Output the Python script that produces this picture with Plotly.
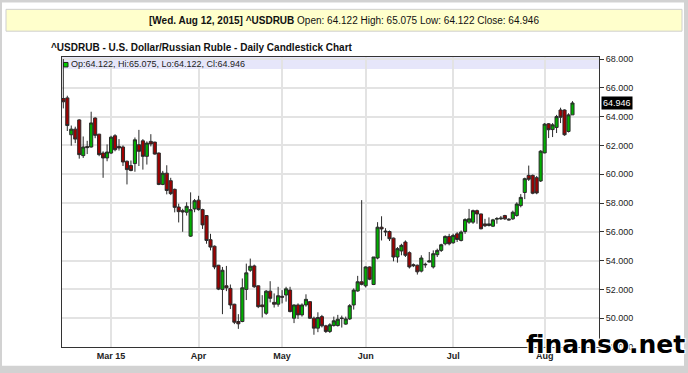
import pandas as pd
import plotly.graph_objects as go

symbol = "^USDRUB"
title_text = "^USDRUB - U.S. Dollar/Russian Ruble - Daily Candlestick Chart"
holidays = ["2015-04-03"]
trade_dates = [d.strftime("%Y-%m-%d") for d in pd.bdate_range("2015-02-12", "2015-08-12")
               if d.strftime("%Y-%m-%d") not in holidays]

open_vals = [65.26, 65.30, 62.74, 63.13, 63.77, 61.29, 61.92, 61.89, 63.90, 62.78,
             61.47, 61.13, 61.47, 62.67, 61.93, 61.89, 60.90, 60.60, 60.74, 62.05,
             62.32, 61.24, 62.28, 62.23, 61.47, 59.29, 60.07, 59.55, 58.95, 57.72,
             57.47, 57.36, 55.70, 57.59, 58.20, 57.54, 57.13, 55.45, 55.00, 53.68,
             52.00, 52.25, 52.07, 50.97, 49.77, 49.77, 52.00, 53.33, 53.63, 52.25,
             50.92, 50.34, 51.88, 51.10, 50.97, 51.52, 51.61, 51.95, 50.00, 50.92,
             50.23, 50.92, 51.15, 50.00, 49.31, 50.11, 49.47, 49.08, 49.49, 49.49,
             50.02, 49.59, 49.95, 50.92, 51.89, 52.53, 52.25, 53.56, 52.34, 54.18,
             56.32, 56.05, 56.02, 55.56, 54.25, 54.67, 55.29, 54.55, 53.72, 53.68,
             53.27, 53.70, 53.90, 53.56, 54.41, 54.71, 55.17, 55.68, 55.24, 55.86,
             55.40, 56.02, 56.67, 56.67, 57.47, 57.24, 56.55, 56.44, 56.39, 56.88,
             56.90, 57.13, 56.88, 56.90, 57.13, 57.82, 58.73, 59.92, 59.92, 59.76,
             59.53, 61.48, 63.50, 63.10, 63.25, 64.46, 64.46, 62.97, 64.122]
high_vals = [68.00, 65.45, 63.38, 63.30, 63.82, 62.62, 62.32, 64.34, 63.95, 62.80,
             61.59, 62.07, 62.67, 62.78, 62.44, 62.00, 60.95, 60.95, 62.55, 63.08,
             62.44, 62.28, 62.78, 62.25, 61.50, 60.23, 60.62, 59.75, 59.00, 57.95,
             57.60, 58.05, 58.74, 58.28, 58.50, 57.60, 57.15, 55.86, 55.05, 53.70,
             53.56, 53.63, 52.34, 51.00, 50.28, 52.76, 53.79, 54.14, 53.72, 52.27,
             51.60, 51.95, 52.57, 51.72, 52.18, 51.95, 52.18, 52.18, 50.95, 51.03,
             51.03, 51.66, 51.15, 50.11, 50.41, 50.23, 49.54, 49.65, 50.11, 50.23,
             50.18, 50.11, 50.98, 52.07, 52.94, 58.20, 53.60, 53.60, 54.25, 56.67,
             57.08, 56.25, 56.09, 55.60, 54.94, 55.17, 55.40, 54.64, 53.80, 53.72,
             54.37, 53.86, 54.60, 54.71, 54.83, 55.17, 55.75, 55.86, 55.86, 55.98,
             56.09, 56.94, 57.59, 57.54, 57.54, 57.26, 56.90, 57.00, 56.90, 57.02,
             57.10, 57.18, 56.94, 57.47, 58.05, 58.62, 59.76, 60.60, 59.98, 59.88,
             61.67, 63.55, 63.55, 63.55, 64.12, 64.62, 64.50, 64.23, 65.075]
low_vals = [64.57, 63.00, 61.98, 62.16, 61.08, 61.13, 61.40, 61.85, 62.50, 61.25,
            59.75, 60.90, 61.40, 61.59, 61.64, 60.57, 59.29, 60.20, 60.17, 60.57,
            60.32, 60.67, 61.93, 61.36, 59.24, 59.24, 58.60, 58.55, 57.35, 56.65,
            56.00, 57.13, 55.65, 57.36, 57.47, 56.20, 55.17, 54.71, 53.40, 51.95,
            50.28, 51.88, 50.64, 49.59, 49.26, 49.72, 51.26, 53.22, 52.11, 50.70,
            50.05, 50.23, 51.10, 50.74, 50.80, 51.03, 51.15, 50.41, 49.66, 49.95,
            50.11, 50.80, 49.95, 48.85, 49.03, 49.36, 48.97, 48.97, 49.42, 49.42,
            49.35, 49.54, 49.88, 50.60, 51.84, 52.28, 52.14, 52.64, 52.30, 54.09,
            55.40, 55.70, 55.36, 53.95, 53.86, 54.37, 54.25, 53.45, 53.55, 53.03,
            53.18, 53.50, 53.88, 53.45, 54.25, 54.60, 55.06, 55.06, 55.17, 55.29,
            55.33, 55.86, 56.55, 56.55, 56.56, 56.17, 56.33, 56.37, 56.33, 56.56,
            56.83, 56.83, 56.79, 56.83, 57.05, 57.70, 58.27, 59.53, 58.61, 58.61,
            59.46, 61.45, 62.51, 62.58, 62.86, 63.55, 62.67, 62.90, 64.122]
close_vals = [65.03, 63.38, 63.13, 62.44, 61.36, 61.89, 61.85, 63.56, 62.70, 61.36,
              61.13, 61.54, 62.57, 61.70, 61.82, 60.85, 60.32, 60.26, 62.39, 61.59,
              61.24, 62.16, 62.10, 61.40, 59.29, 60.07, 58.87, 58.65, 57.70, 57.40,
              57.38, 57.77, 57.54, 58.16, 57.54, 56.48, 55.40, 54.94, 53.56, 52.02,
              53.33, 52.11, 50.92, 49.72, 49.61, 52.11, 53.15, 53.61, 52.18, 50.80,
              50.80, 51.88, 51.38, 50.97, 51.56, 51.46, 52.04, 50.46, 50.92, 50.23,
              50.92, 51.31, 50.00, 49.31, 50.05, 49.47, 49.08, 49.54, 49.82, 49.93,
              49.98, 49.95, 50.87, 51.95, 52.53, 52.35, 53.56, 52.71, 54.25, 56.32,
              56.20, 56.00, 55.52, 54.25, 54.83, 55.06, 54.37, 53.56, 53.65, 53.22,
              54.18, 53.74, 53.98, 54.48, 54.71, 55.10, 55.68, 55.17, 55.75, 55.47,
              55.98, 56.85, 56.90, 57.47, 57.24, 56.21, 56.42, 56.55, 56.83, 56.92,
              56.95, 56.90, 56.83, 57.36, 57.93, 58.39, 59.69, 59.65, 58.68, 58.70,
              61.60, 63.48, 63.09, 63.43, 64.00, 63.96, 62.74, 64.12, 64.946]

tick_dates = ["2015-03-02", "2015-04-01", "2015-05-01", "2015-06-01", "2015-07-01", "2015-08-03"]
tick_labels = ["Mar 15", "Apr", "May", "Jun", "Jul", "Aug"]
y_ticks = [48, 50, 52, 54, 56, 58, 60, 62, 64, 66, 68]

assert len(trade_dates) == len(open_vals) == len(high_vals) == len(low_vals) == len(close_vals)

x_vals = [d + " 12:00" for d in trade_dates]
FONT = "Liberation Sans, Arial, sans-serif"

fig = go.Figure(go.Candlestick(
    x=x_vals, open=open_vals, high=high_vals, low=low_vals, close=close_vals,
    increasing=dict(fillcolor="#00b000", line=dict(color="#2a2a2a", width=1)),
    decreasing=dict(fillcolor="#a00000", line=dict(color="#2a2a2a", width=1)),
    whiskerwidth=0, showlegend=False, hoverinfo="skip",
))

def px_x(p):
    return (p - 62) / 537.0

def px_y(p):
    return (349 - p) / 292.0

shapes = [
    dict(type="rect", xref="paper", yref="paper", x0=px_x(2), x1=px_x(684), y0=px_y(368), y1=px_y(2),
         fillcolor="white", line=dict(width=0), layer="below"),
    dict(type="rect", xref="paper", yref="paper", x0=px_x(6), x1=px_x(682), y0=px_y(31), y1=px_y(9),
         fillcolor="#ffffcc", line=dict(color="#cfcfcf", width=1), layer="below"),
    dict(type="rect", xref="paper", yref="paper", x0=0, x1=1, y0=px_y(69), y1=1,
         fillcolor="#e6e6fa", line=dict(width=0), layer="below"),
    dict(type="rect", xref="paper", yref="paper", x0=px_x(63.5), x1=px_x(68), y0=px_y(67), y1=px_y(62.5),
         fillcolor="#00cc00", line=dict(color="#222222", width=1), layer="above"),
]

last_date = pd.Timestamp(trade_dates[-1])
o, h, l, c = open_vals[-1], high_vals[-1], low_vals[-1], close_vals[-1]
header = (f"<b>[{last_date.strftime('%a')}. {last_date.strftime('%b')} {last_date.day}, {last_date.year}] {symbol}</b>"
          f" Open: {o:.3f} High: {h:.3f} Low: {l:.3f} Close: {c:.3f}")
legend_txt = f"Op:{o:.3f}, Hi:{h:.3f}, Lo:{l:.3f}, Cl:{c:.3f}"

annotations = [
    dict(text=header, xref="paper", yref="paper", x=px_x(344), y=px_y(20), xanchor="center", yanchor="middle",
         showarrow=False, font=dict(family=FONT, size=10, color="#111111")),
    dict(text=f"<b>{title_text}</b>", xref="paper", yref="paper", x=px_x(49), y=px_y(47),
         xanchor="left", yanchor="middle", showarrow=False, font=dict(family=FONT, size=10, color="#111111")),
    dict(text=legend_txt, xref="paper", yref="paper", x=px_x(68.5), y=px_y(64.5),
         xanchor="left", yanchor="middle", showarrow=False, font=dict(family=FONT, size=9, color="#222222")),
    dict(text=f"{c:.3f}", xref="paper", yref="y", x=1, y=c, xanchor="left", yanchor="middle", xshift=2,
         showarrow=False, bgcolor="#000000", borderpad=1, font=dict(family=FONT, size=9, color="#ffffff")),
    dict(text="<b>finanso.net</b>", xref="paper", yref="paper", x=px_x(605), y=px_y(346),
         xanchor="center", yanchor="middle", showarrow=False,
         font=dict(family="DejaVu Sans, " + FONT, size=25, color="#000000",
                   shadow="1px 1px 1px #ffffff, -1px -1px 1px #ffffff, 1px -1px 1px #ffffff, -1px 1px 1px #ffffff")),
]

fig.update_layout(
    width=688, height=373,
    margin=dict(l=62, r=89, t=57, b=24),
    paper_bgcolor="#d2d2d2",
    plot_bgcolor="rgba(0,0,0,0)",
    boxgap=0.22, boxgroupgap=0,
    shapes=shapes, annotations=annotations,
    font=dict(family=FONT, size=9, color="#222222"),
    xaxis=dict(
        type="date",
        range=["2015-02-12 04:00", "2015-08-21 04:00"],
        rangebreaks=[dict(bounds=["sat", "mon"]), dict(values=holidays)],
        rangeslider=dict(visible=False),
        tickvals=[d + " 12:00" for d in tick_dates], ticktext=[f"<b>{t}</b>" for t in tick_labels],
        tickfont=dict(family=FONT, size=9, color="#222222"),
        showgrid=True, gridcolor="#e3e3e3", gridwidth=1.5,
        showline=True, linecolor="#333333", linewidth=1, mirror=True,
        ticks="", zeroline=False,
    ),
    yaxis=dict(
        side="right", range=[48, 68.14],
        tickvals=y_ticks, tickformat=".3f",
        tickfont=dict(family=FONT, size=9, color="#222222"),
        showgrid=True, gridcolor="#e3e3e3", gridwidth=1.5,
        showline=True, linecolor="#333333", linewidth=1, mirror=True,
        ticks="outside", ticklen=4, tickcolor="#333333", zeroline=False,
    ),
)

fig.write_html("out.html", config={"displayModeBar": False},
               post_script="document.body.style.margin='0';document.body.style.padding='0';")
